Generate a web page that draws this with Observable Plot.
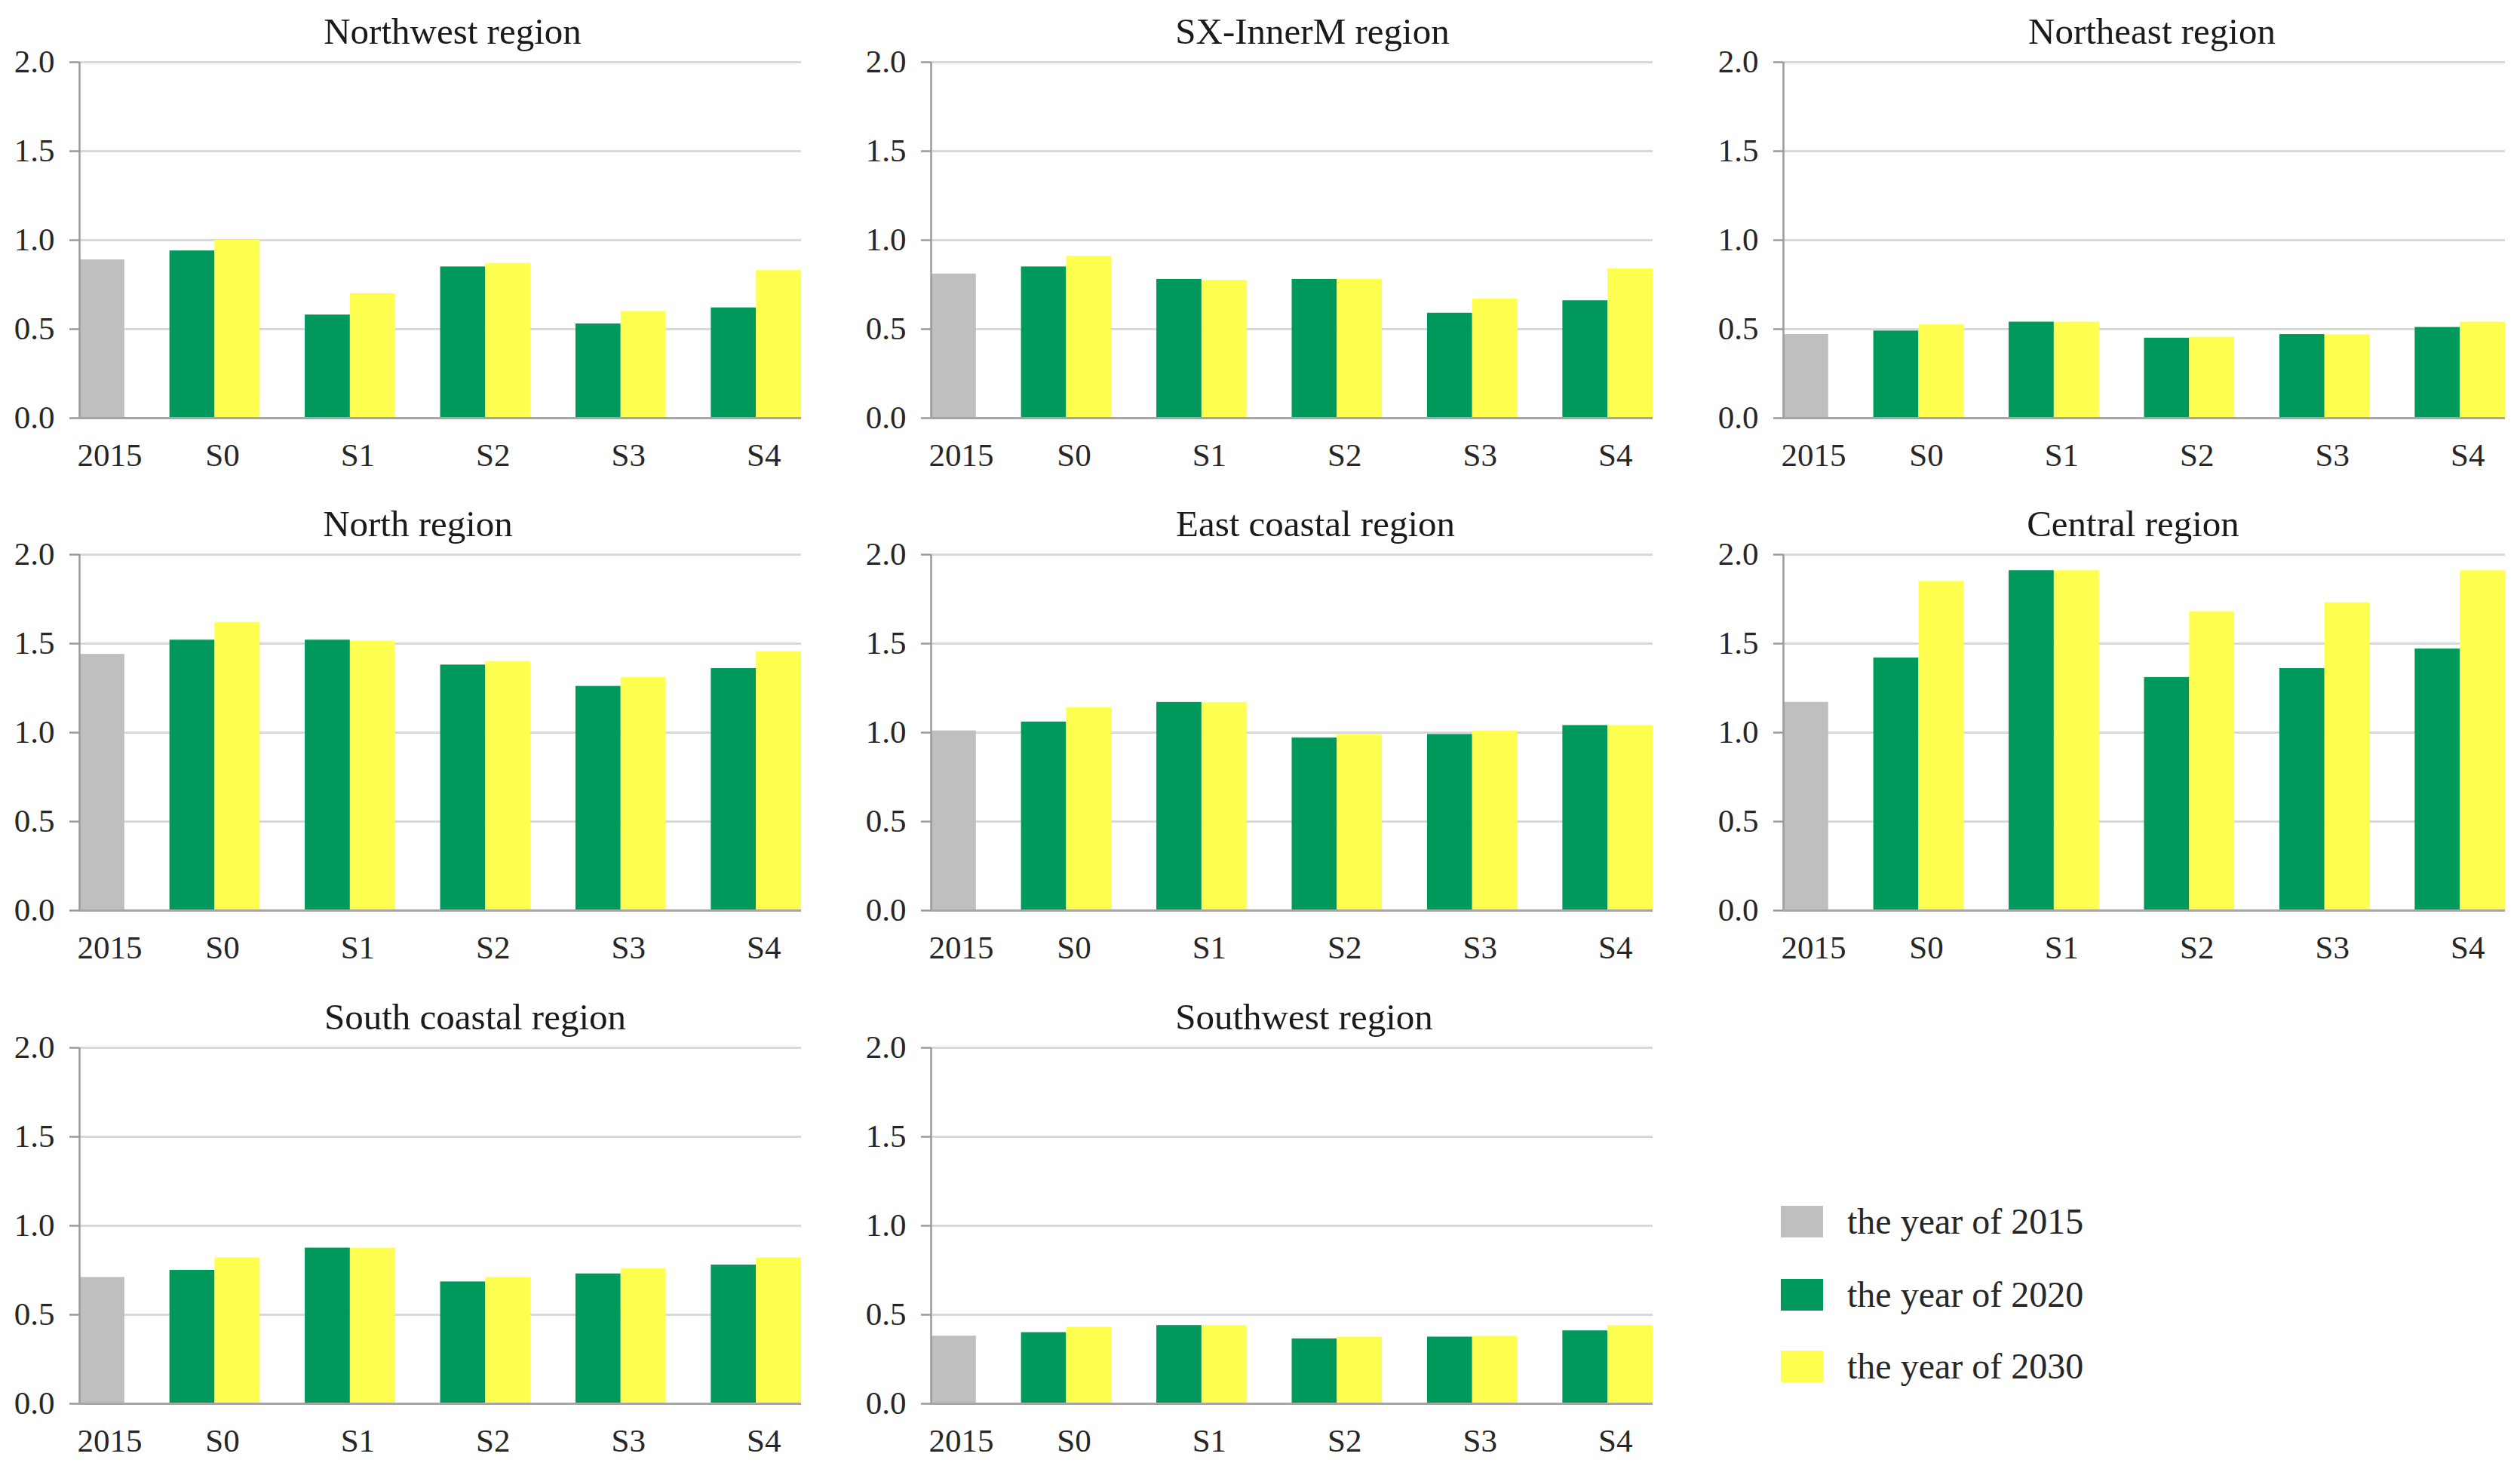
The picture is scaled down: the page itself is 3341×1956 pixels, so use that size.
<!DOCTYPE html>
<html>
<head>
<meta charset="utf-8">
<script src="https://cdn.jsdelivr.net/npm/d3@7"></script>
<script src="https://cdn.jsdelivr.net/npm/@observablehq/plot@0.6"></script>
<style>
  html, body { margin: 0; padding: 0; background: #fff; }
  #page { position: relative; width: 3341px; height: 1956px; overflow: hidden; background: #fff; font-family: "Liberation Serif", serif; }
  .panel { position: absolute; }
  .panel svg { max-width: none !important; }
  .legend { position: absolute; left: 2361px; top: 0; }
  .legend .item { position: absolute; left: 0; display: flex; align-items: center; white-space: nowrap; }
  .legend .sw { width: 56px; height: 42px; margin-right: 32px; }
  .legend .lab { font-size: 48px; color: #262626; line-height: 1; }
</style>
</head>
<body>
<div id="page"></div>
<script>
// ---- data ----
const regions = ["Northwest region", "SX-InnerM region", "Northeast region", "North region",
                 "East coastal region", "Central region", "South coastal region", "Southwest region"];
const scenarios = ["S0", "S1", "S2", "S3", "S4"];
const baseLabel = "2015";
const seriesNames = ["2015", "2020", "2030"];
const legendLabels = ["the year of 2015", "the year of 2020", "the year of 2030"];
const yTicks = [0, 0.5, 1.0, 1.5, 2.0];

const values2015 = [0.89, 0.81, 0.47, 1.44, 1.01, 1.17, 0.71, 0.38];
const values2020 = [
  [0.94, 0.58, 0.85, 0.53, 0.62],   // Northwest
  [0.85, 0.78, 0.78, 0.59, 0.66],   // SX-InnerM
  [0.49, 0.54, 0.45, 0.47, 0.51],   // Northeast
  [1.52, 1.52, 1.38, 1.26, 1.36],   // North
  [1.06, 1.17, 0.97, 0.99, 1.04],   // East coastal
  [1.42, 1.91, 1.31, 1.36, 1.47],   // Central
  [0.75, 0.875, 0.685, 0.73, 0.78], // South coastal
  [0.40, 0.44, 0.365, 0.375, 0.41]  // Southwest
];
const values2030 = [
  [1.00, 0.70, 0.87, 0.60, 0.83],
  [0.91, 0.775, 0.78, 0.67, 0.84],
  [0.525, 0.54, 0.455, 0.47, 0.54],
  [1.62, 1.515, 1.40, 1.31, 1.455],
  [1.14, 1.17, 0.99, 1.01, 1.04],
  [1.85, 1.91, 1.68, 1.73, 1.91],
  [0.82, 0.875, 0.71, 0.76, 0.82],
  [0.43, 0.44, 0.375, 0.38, 0.44]
];

// ---- layout / style (not data) ----
const colors = ["#bfbfbf", "#00985b", "#ffff52"];
const pageW = 3341;
const colX = [0, 1129, 2259];
const rowY = [0, 653, 1307];
const titleDx = [16, 27, 10, -30, 31, -15, 46, 16];
const H = 653;
const plotLeft = 105, plotRight = 1062;
const M = {top: 82, bottom: 99};
const nSlots = 16;

const page = document.getElementById("page");

regions.forEach((region, r) => {
  const cx = colX[r % 3];
  const W = Math.min(1129, pageW - cx);
  // slots: [2015][gap][S0 2020][S0 2030][gap][S1 ...] ...
  const rows = [{series: "2015", slot: 0, value: values2015[r]}];
  scenarios.forEach((s, i) => {
    rows.push({series: "2020", slot: 2 + 3 * i, value: values2020[r][i]});
    rows.push({series: "2030", slot: 3 + 3 * i, value: values2030[r][i]});
  });
  const xLabels = [{label: baseLabel, pos: 0.5}]
    .concat(scenarios.map((s, i) => ({label: s, pos: 3 + 3 * i})));

  const chart = Plot.plot({
    width: W, height: H,
    marginLeft: plotLeft, marginRight: W - plotRight, marginTop: M.top, marginBottom: M.bottom,
    style: {fontFamily: "'Liberation Serif', serif", background: "transparent", overflow: "visible"},
    x: {domain: [0, nSlots], axis: null},
    y: {domain: [0, 2], axis: null},
    color: {domain: seriesNames, range: colors},
    marks: [
      Plot.gridY(yTicks.filter(d => d > 0), {stroke: "#d9d9d9", strokeOpacity: 1, strokeWidth: 3}),
      Plot.rectY(rows, {x1: "slot", x2: d => d.slot + 1, y: "value", fill: "series"}),
      Plot.ruleX([0], {stroke: "#9a9a9a", strokeWidth: 2.5}),
      Plot.ruleY([0], {stroke: "#a6a6a6", strokeWidth: 3}),
      Plot.axisY({ticks: yTicks, tickFormat: d3.format(".1f"), tickSize: 13, tickPadding: 20, label: null,
                  fontSize: 43, stroke: "#9a9a9a", strokeWidth: 2.5, fill: "#262626"}),
      Plot.text(xLabels, {x: "pos", frameAnchor: "bottom", text: "label", dy: 50, dx: 10,
                          fontSize: 43, fill: "#262626", lineAnchor: "middle"}),
      Plot.text([region], {frameAnchor: "top", text: d => d, dy: -40, dx: titleDx[r],
                           fontSize: 49, fill: "#1a1a1a", lineAnchor: "middle"})
    ]
  });
  const div = document.createElement("div");
  div.className = "panel";
  div.style.left = cx + "px";
  div.style.top = rowY[Math.floor(r / 3)] + "px";
  div.appendChild(chart);
  page.appendChild(div);
});

// legend
const legend = document.createElement("div");
legend.className = "legend";
const legendCenters = [1620, 1717, 1812];
seriesNames.forEach((s, i) => {
  const item = document.createElement("div");
  item.className = "item";
  item.style.top = (legendCenters[i] - 30) + "px";
  item.style.height = "60px";
  const sw = document.createElement("div");
  sw.className = "sw";
  sw.style.background = colors[i];
  const lab = document.createElement("span");
  lab.className = "lab";
  lab.textContent = legendLabels[i];
  item.appendChild(sw);
  item.appendChild(lab);
  legend.appendChild(item);
});
page.appendChild(legend);
</script>
</body>
</html>
